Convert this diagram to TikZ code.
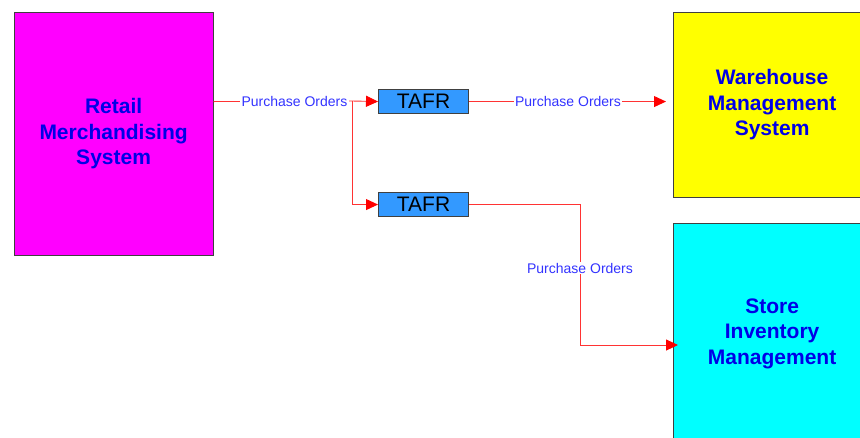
\documentclass[tikz,border=0pt]{standalone}
\usepackage{fontspec}
\setmainfont{Liberation Sans}
\usetikzlibrary{arrows.meta,calc}
\definecolor{magbox}{RGB}{255,0,255}
\definecolor{yelbox}{RGB}{255,255,0}
\definecolor{cyanbox}{RGB}{0,255,255}
\definecolor{tafrblue}{RGB}{51,153,255}
\definecolor{edgegray}{RGB}{64,64,64}
\definecolor{titleblue}{RGB}{0,0,230}
\definecolor{labelblue}{RGB}{51,51,255}
\tikzset{
  sysbox/.style={draw=edgegray, line width=1.2pt, anchor=north west, inner sep=0pt,
    align=center, text=titleblue, font=\fontsize{21}{25.5}\selectfont\bfseries},
  tafrbox/.style={draw=edgegray, line width=1.1pt, fill=tafrblue, anchor=north west, inner sep=0pt,
    minimum width=90pt, minimum height=24pt, font=\fontsize{21}{21}\selectfont},
  conn/.style={draw=red!80!white, line width=0.9pt, -{Triangle[length=12pt,width=11pt,fill=red,color=red]}},
  line/.style={draw=red!80!white, line width=0.9pt},
  flowlabel/.style={fill=white, inner xsep=1.5pt, inner ysep=1pt, text=labelblue,
    font=\fontsize{14}{15}\selectfont}
}
\begin{document}
\begin{tikzpicture}[x=1pt,y=-1pt]
\useasboundingbox (0,0) rectangle (860,437);
\clip (0,0) rectangle (860,437);
% boxes
\node[sysbox, fill=magbox, minimum width=199pt, minimum height=243.5pt] (rms) at (13.5,11.5) {Retail\\Merchandising\\System};
\node[sysbox, fill=yelbox, minimum width=197pt, minimum height=185.5pt] (wms) at (673,11.5) {Warehouse\\Management\\System};
\node[sysbox, fill=cyanbox, minimum width=197pt, minimum height=220pt] (sim) at (673,223) {Store\\Inventory\\Management};
\node[tafrbox] (t1) at (378,89) {TAFR};
\node[tafrbox] (t2) at (378,192) {TAFR};
% connectors
\coordinate (br) at (352,101);
\draw[line] (rms.east |- t1.west) -- (br);
\draw[conn] (br) -- (t1.west);
\draw[conn] (br) |- (t2.west);
\node[flowlabel] (l1) at (294.5,101) {Purchase Orders};
\draw[conn, shorten >=7pt] (t1.east) -- (wms.west |- t1.east);
\node[flowlabel] (l2) at (568,101) {Purchase Orders};
\coordinate (c3) at (580,345);
\draw[conn, shorten >=-5pt] (t2.east) -| (c3) -- (sim.west |- c3);
\node[flowlabel] (l3) at (580,268) {Purchase Orders};
\end{tikzpicture}
\end{document}
